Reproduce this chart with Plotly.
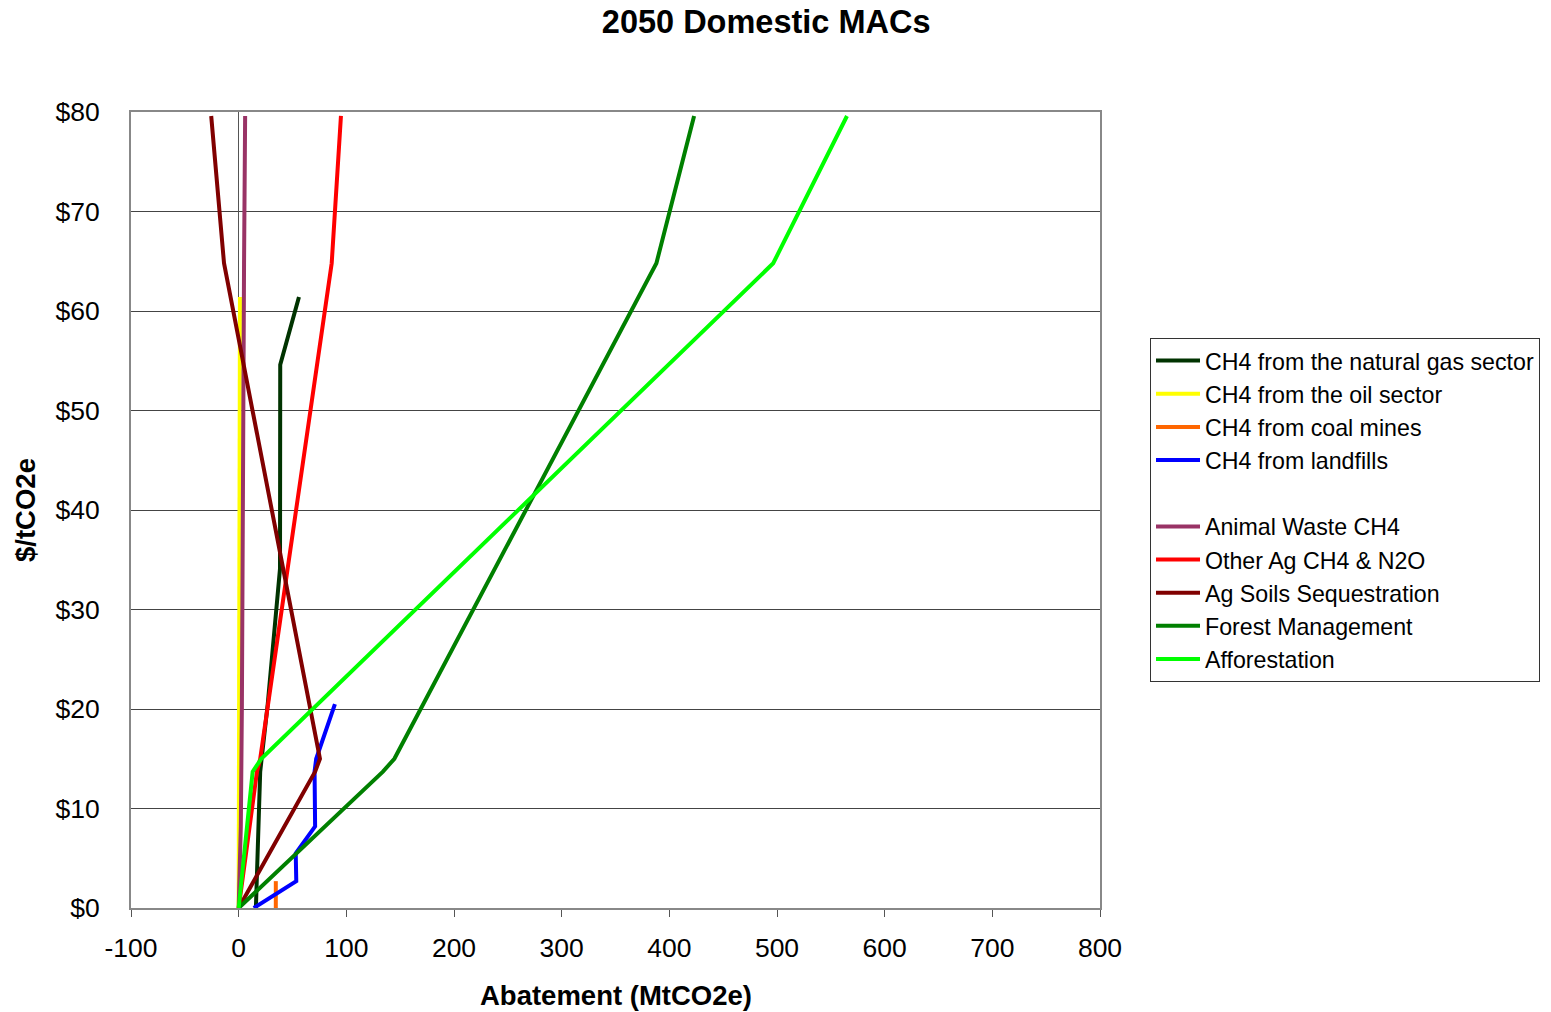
import plotly.graph_objects as go

# ---- data ----
gas_x = [16, 20, 27, 33, 38.4, 38.6, 56]
gas_y = [0, 13.7, 20.5, 27.3, 34.1, 54.6, 61.4]

oil_x = [0, 0.5, 1.2]
oil_y = [0, 20.5, 61.4]

coal_x = [34.5, 34.5]
coal_y = [0, 2.7]

landfill_x = [14, 53.5, 53, 71, 70.5, 72, 89.4]
landfill_y = [0, 2.7, 5.5, 8.2, 13.7, 15.0, 20.5]

animal_x = [0, 2, 3, 4, 5, 6]
animal_y = [0, 8.2, 20.5, 54.6, 64.8, 79.6]

otherag_x = [0, 17, 20, 86.4, 95]
otherag_y = [0, 13.7, 15.0, 64.8, 79.6]

soils_x = [0, 71, 75.5, -13.6, -25.5]
soils_y = [0, 13.7, 15.0, 64.8, 79.6]

forest_x = [0, 134, 144.6, 388, 423]
forest_y = [0, 13.7, 15.0, 64.8, 79.6]

affor_x = [0, 13, 21, 496.5, 565]
affor_y = [0, 13.7, 15.0, 64.8, 79.6]

x_ticks = [-100, 0, 100, 200, 300, 400, 500, 600, 700, 800]
x_ticklabels = ["-100", "0", "100", "200", "300", "400", "500", "600", "700", "800"]
y_ticks = [0, 10, 20, 30, 40, 50, 60, 70, 80]
y_ticklabels = ["$0", "$10", "$20", "$30", "$40", "$50", "$60", "$70", "$80"]

series = [
    ("CH4 from the natural gas sector", gas_x, gas_y, "#003300"),
    ("CH4 from the oil sector", oil_x, oil_y, "#FFFF00"),
    ("CH4 from coal mines", coal_x, coal_y, "#FF6600"),
    ("CH4 from landfills", landfill_x, landfill_y, "#0000FF"),
    (" ", [None], [None], "rgba(0,0,0,0)"),
    ("Animal Waste CH4", animal_x, animal_y, "#993366"),
    ("Other Ag CH4 & N2O", otherag_x, otherag_y, "#FF0000"),
    ("Ag Soils Sequestration", soils_x, soils_y, "#800000"),
    ("Forest Management", forest_x, forest_y, "#008000"),
    ("Afforestation", affor_x, affor_y, "#00FF00"),
]

FONT = "Liberation Sans, Arial, sans-serif"

fig = go.Figure()
for name, xs, ys, col in series:
    fig.add_trace(go.Scatter(x=xs, y=ys, mode="lines", name=name,
                             line=dict(color=col, width=4),
                             hoverinfo="skip"))

fig.update_layout(
    width=1551, height=1012,
    margin=dict(l=131, r=451, t=112, b=104),
    paper_bgcolor="white", plot_bgcolor="white",
    font=dict(family=FONT, color="black", size=26),
    title=dict(text="<b>2050 Domestic MACs</b>", x=0.494, xanchor="center",
               y=1 - 22 / 1012, yanchor="middle", yref="container",
               font=dict(size=32.5, family=FONT, color="black")),
    legend=dict(xref="container", yref="container",
                x=1150 / 1551, xanchor="left", y=1 - 338 / 1012, yanchor="top",
                bordercolor="#333333", borderwidth=1, bgcolor="white",
                font=dict(size=23.2, family=FONT, color="black"),
                itemwidth=44, tracegroupgap=0),
    showlegend=True,
    annotations=[
        dict(text="<b>Abatement (MtCO2e)</b>", xref="paper", yref="paper",
             x=0.5, y=(908 - 995) / 796, xanchor="center", yanchor="middle",
             showarrow=False, font=dict(size=27.5, family=FONT, color="black")),
        dict(text="<b>$/tCO2e</b>", xref="paper", yref="paper",
             x=(25 - 131) / 969, y=0.5, xanchor="center", yanchor="middle",
             textangle=-90, showarrow=False,
             font=dict(size=27.5, family=FONT, color="black")),
    ],
)

fig.update_xaxes(
    range=[-100, 800], tickmode="array", tickvals=x_ticks, ticktext=x_ticklabels,
    ticks="outside", ticklen=7, tickcolor="#555555", tickwidth=1,
    ticklabelstandoff=8, automargin=False,
    showgrid=False, zeroline=True, zerolinecolor="#555555", zerolinewidth=1,
    showline=True, mirror=True, linecolor="#888888", linewidth=2,
    tickfont=dict(size=26.5, family=FONT),
)
fig.update_yaxes(
    range=[0, 80], tickmode="array", tickvals=y_ticks, ticktext=y_ticklabels,
    ticks="outside", ticklen=0, ticklabelstandoff=24, automargin=False,
    showgrid=True, gridcolor="#444444", gridwidth=1,
    zeroline=False,
    showline=True, mirror=True, linecolor="#888888", linewidth=2,
    tickfont=dict(size=26.5, family=FONT),
)

fig.write_html("out.html")
